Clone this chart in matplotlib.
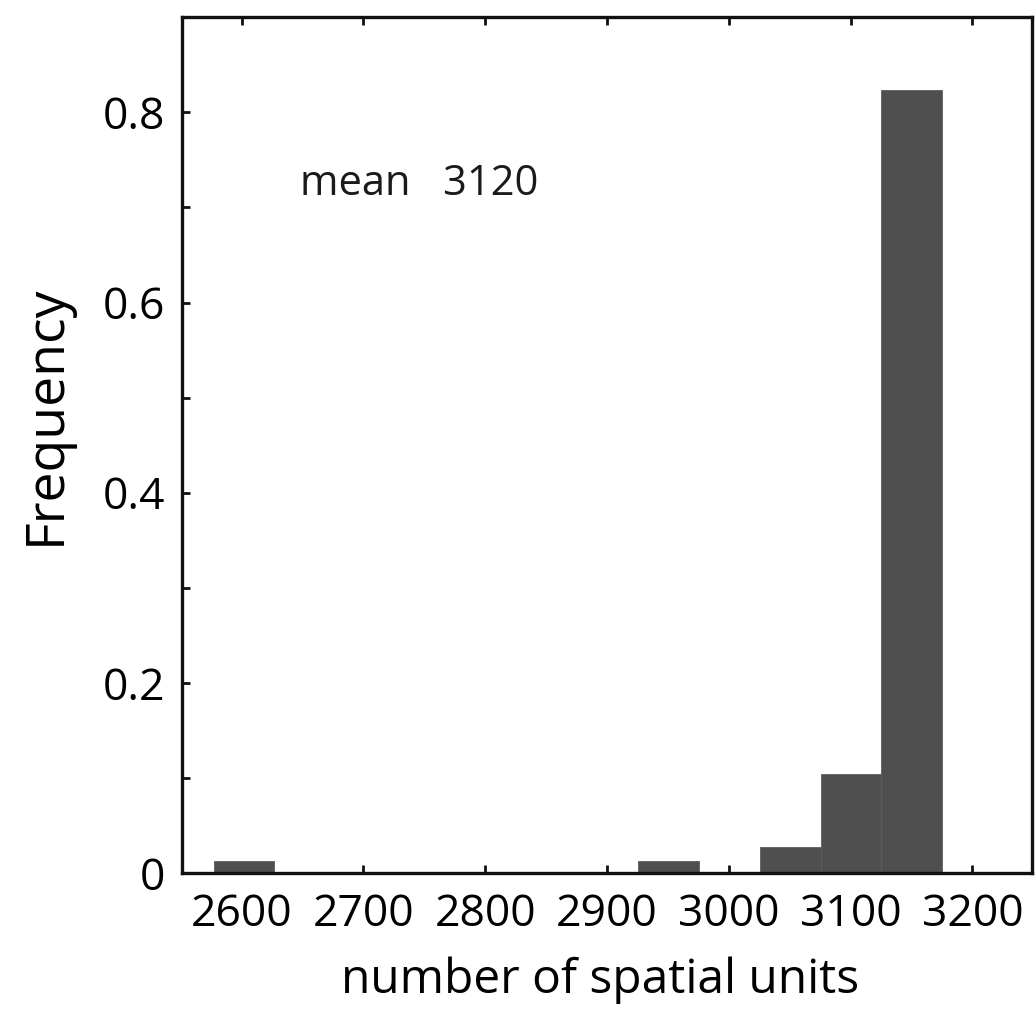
import numpy as np
import matplotlib
matplotlib.use("Agg")
import matplotlib.pyplot as plt
from matplotlib.ticker import MultipleLocator

plt.rcParams["font.family"] = ["Open Sans", "DejaVu Sans"]

# histogram of number of spatial units (12 bins, relative frequency)
bin_lo, bin_hi, n_bins = 2577, 3175, 12
freq = [0.013, 0, 0, 0, 0, 0, 0, 0.013, 0, 0.027, 0.104, 0.823]
mean_val = 3120
x_ticks = [2600, 2700, 2800, 2900, 3000, 3100, 3200]
y_ticks = [0, 0.2, 0.4, 0.6, 0.8]
y_ticklabels = ["0", "0.2", "0.4", "0.6", "0.8"]

edges = np.linspace(bin_lo, bin_hi, n_bins + 1)
widths = np.diff(edges)

fig = plt.figure(figsize=(10.35, 10.14), dpi=100)
ax = fig.add_axes([0.1758, 0.139, 0.9971 - 0.1758, 0.983 - 0.139])

ax.bar(edges[:-1], freq, width=widths, align="edge", color="#4f4f4f",
       edgecolor="#5c5c5c", linewidth=0.6, zorder=2)

ax.set_xlim(2551, 3249)
ax.set_ylim(0, 0.9)
ax.set_xticks(x_ticks)
ax.set_yticks(y_ticks)
ax.set_yticklabels(y_ticklabels)
ax.yaxis.set_minor_locator(MultipleLocator(0.1))

for s in ax.spines.values():
    s.set_linewidth(2.4)
    s.set_color("#111111")
    s.set_zorder(3)

ax.tick_params(axis="both", which="both", direction="in", length=6, width=2.0,
               color="#111111", labelsize=32)
ax.tick_params(axis="x", top=True, bottom=True, pad=14)
ax.tick_params(axis="y", left=True, right=False, pad=12)

ax.set_xlabel("number of spatial units", fontsize=34.5)
ax.xaxis.set_label_coords(0.492, -0.098)
ax.set_ylabel("Frequency", fontsize=38.5)
ax.yaxis.set_label_coords(-0.128, 0.535)

ax.text(0.139, 0.805, f"mean   {mean_val}", transform=ax.transAxes,
        fontsize=30, ha="left", va="center", color="#1a1a1a")

fig.savefig("out.png", dpi=100)
